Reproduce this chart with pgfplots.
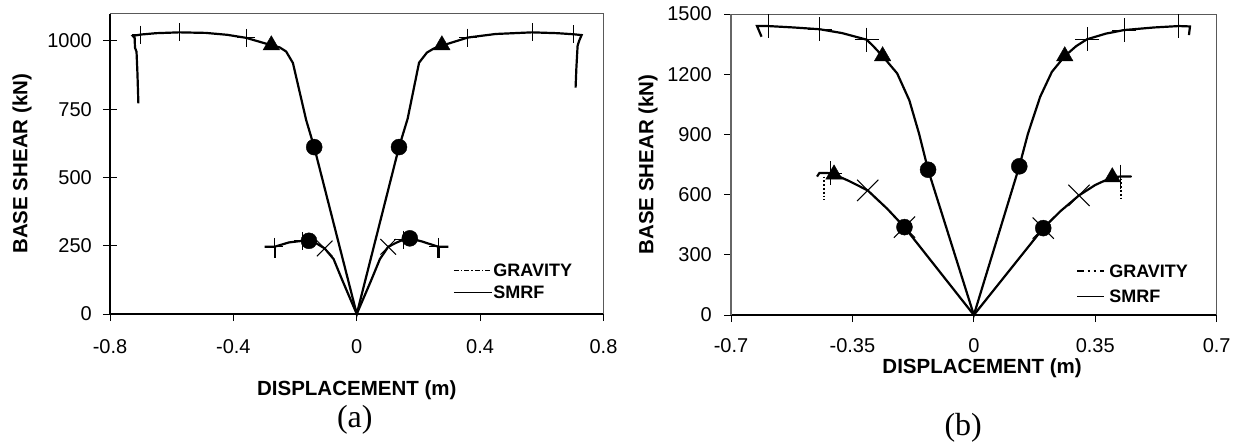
\documentclass[border=0pt]{standalone}
\usepackage{fontspec}
\setmainfont{Liberation Sans}
\newfontfamily\seriffont{Liberation Serif}
\usepackage{pgfplots}
\pgfplotsset{compat=1.18}
\pgfplotsset{
  common/.style={
    scale only axis, clip=false,
    axis x line*=bottom, axis y line*=left,
    x axis line style={-, black, line width=1.8pt},
    tick style={black, line width=0.8pt},
    /pgf/number format/assume math mode=true,
    /pgf/number format/1000 sep={},
    /pgf/number format/fixed,
    /pgf/number format/precision=2,
    tick label style={font=\fontsize{20}{24}\selectfont},
    yticklabel style={anchor=east, inner sep=0pt},
    label style={font=\fontsize{20.5}{24}\selectfont\bfseries},
    legend cell align=left,
    legend style={draw=none, fill=none, inner sep=0pt,
      font=\fontsize{18}{18}\selectfont\bfseries,
      nodes={inner sep=0pt, text height=13pt, text depth=0pt}},
  },
  curve/.style={black, line width=2.2pt, no marks, forget plot},
  pl/.style={only marks, mark=+, mark size=#1, mark options={black, line width=0.9pt}, forget plot},
  xm/.style={only marks, mark=x, mark size=#1, mark options={black, line width=1pt}, forget plot},
  ci/.style={only marks, mark=*, mark size=8pt, black, forget plot},
  tr/.style={only marks, mark=triangle*, mark size=9.5pt, black, forget plot},
}
\begin{document}
\begin{tikzpicture}
\useasboundingbox (0,0) rectangle (1242pt,-445pt);
% ---------------- (a) ----------------
\begin{axis}[common, at={(110pt,-314pt)}, anchor=south west,
  width=493.5pt, height=300.5pt,
  xmin=-0.8, xmax=0.8, ymin=0, ymax=1100,
  xtick={-0.8,-0.4,0,0.4,0.8}, ytick={0,250,500,750,1000},
  y axis line style={-, black, line width=1.4pt},
  major tick length=14pt, ytick align=center,
  major x tick style={draw=none},
  minor xtick={-0.8,-0.4,0,0.4,0.8}, minor tick length=7pt, xtick align=outside,
  xticklabel style={anchor=center, inner sep=0pt, yshift=-19pt},
  yticklabel style={xshift=-11pt},
  xlabel={DISPLACEMENT (m)}, ylabel={BASE SHEAR (kN)},
  xlabel style={at={(axis description cs:0.5,-0.253)}, anchor=center},
  ylabel style={at={(axis description cs:-0.178,0.5)}, anchor=center},
  legend style={at={(axis description cs:0.695,0.168)}, anchor=north west, row sep=9pt, column sep=1pt},
  legend image code/.code={\draw[#1] (0pt,0pt) -- (38pt,0pt);},
]
\addlegendimage{black, line width=1.3pt, dash pattern=on 5pt off 2pt on 1.5pt off 2pt}
\addlegendentry{GRAVITY}
\addlegendimage{black, line width=1.1pt}
\addlegendentry{SMRF}
% SMRF
\addplot[curve] coordinates {(-0.708,771) (-0.711,880) (-0.714,960) (-0.719,975) (-0.720,1010) (-0.726,1018) (-0.700,1023) (-0.650,1028) (-0.576,1031) (-0.489,1029) (-0.420,1022) (-0.359,1011) (-0.283,986) (-0.250,976) (-0.229,961) (-0.207,919) (-0.164,710) (-0.138,611) (0,0) (0.137,611) (0.165,715) (0.202,920) (0.2275,957) (0.250,972) (0.275,982) (0.360,1012) (0.450,1025) (0.568,1031) (0.650,1028) (0.703,1024) (0.729,1021) (0.721,1000) (0.716,982) (0.712,900) (0.7095,829)};
% GRAVITY
\addplot[curve] coordinates {(-0.299,246) (-0.267,246) (-0.22,262) (-0.175,268) (-0.155,268) (-0.13,258) (-0.104,240) (-0.075,201) (-0.047,124) (0,0) (0.047,124) (0.075,201) (0.102,246) (0.13,262) (0.151,272) (0.172,277) (0.21,266) (0.265,246) (0.297,246)};
\addplot[curve] coordinates {(-0.265,246) (-0.265,205)};
\addplot[curve] coordinates {(0.265,246) (0.265,205)};
% markers
\addplot[tr] coordinates {(-0.277,984) (0.276,984)};
\addplot[ci] coordinates {(-0.138,611) (0.137,611) (-0.155,268) (0.172,277)};
\addplot[pl=9pt] coordinates {(-0.700,1023) (-0.576,1031) (-0.359,1011) (0.360,1012) (0.568,1031) (0.703,1024) (-0.267,246) (-0.175,268) (0.151,272) (0.265,246)};
\addplot[xm=11pt] coordinates {(-0.104,240) (0.102,246)};
\draw[gray!70!black, line width=0.8pt] (rel axis cs:0,1) -- (rel axis cs:1,1) -- (rel axis cs:1,0);
\node[font=\seriffont\fontsize{32}{36}\selectfont] at (axis description cs:0.496,-0.353) {(a)};
\end{axis}
% ---------------- (b) ----------------
\begin{axis}[common, at={(731pt,-315pt)}, anchor=south west,
  width=485.7pt, height=301pt,
  xmin=-0.7, xmax=0.7, ymin=0, ymax=1500,
  xtick={-0.7,-0.35,0,0.35,0.7}, ytick={0,300,600,900,1200,1500},
  y axis line style={-, gray!80!black, line width=1.1pt},
  major tick length=7pt, tick align=outside,
  xticklabel style={anchor=center, inner sep=0pt, yshift=-24pt},
  yticklabel style={xshift=-12pt},
  xlabel={DISPLACEMENT (m)}, ylabel={BASE SHEAR (kN)},
  xlabel style={at={(axis description cs:0.517,-0.178)}, anchor=center, inner sep=0pt},
  ylabel style={at={(axis description cs:-0.171,0.5)}, anchor=center},
  legend style={at={(axis description cs:0.710,0.168)}, anchor=north west, row sep=12pt, column sep=4pt},
  legend image code/.code={\draw[#1] (0pt,0pt) -- (27pt,0pt);},
]
\addlegendimage{black, line width=2.2pt, dash pattern=on 7pt off 3.5pt on 2.5pt off 3.5pt on 2.5pt off 4pt}
\addlegendentry{GRAVITY}
\addlegendimage{black, line width=1.1pt}
\addlegendentry{SMRF}
% SMRF
\addplot[curve] coordinates {(-0.612,1387) (-0.625,1440) (-0.593,1440) (-0.52,1433) (-0.444,1424) (-0.38,1405) (-0.309,1372) (-0.29,1340) (-0.263,1290) (-0.221,1204) (-0.186,1070) (-0.158,904) (-0.132,724) (0,0) (0.131,741) (0.156,904) (0.191,1087) (0.225,1212) (0.262,1290) (0.295,1340) (0.326,1374) (0.38,1402) (0.433,1420) (0.52,1433) (0.591,1440) (0.623,1438) (0.620,1395)};
% GRAVITY
\addplot[curve] coordinates {(-0.452,690) (-0.445,708) (-0.414,707) (-0.403,701) (-0.36,668) (-0.306,621) (-0.25,530) (-0.200,438) (0,0) (0.200,433) (0.25,518) (0.303,596) (0.35,648) (0.399,687) (0.422,690) (0.454,690)};
\addplot[black, line width=1.8pt, dotted, no marks, forget plot] coordinates {(-0.432,690) (-0.432,571)};
\addplot[black, line width=1.8pt, dotted, no marks, forget plot] coordinates {(0.425,680) (0.425,579)};
% markers
\addplot[xm=15pt] coordinates {(-0.200,438) (0.200,433) (-0.306,621) (0.303,596)};
\addplot[tr] coordinates {(-0.263,1290) (0.262,1290) (-0.403,701) (0.399,687)};
\addplot[ci] coordinates {(-0.132,724) (0.131,741) (-0.200,438) (0.200,433)};
\addplot[pl=12pt] coordinates {(-0.593,1440) (-0.444,1424) (-0.309,1372) (0.326,1374) (0.433,1420) (0.591,1440) (-0.414,707) (0.422,690)};
\draw[gray!70!black, line width=0.8pt] (rel axis cs:0,1) -- (rel axis cs:1,1) -- (rel axis cs:1,0);
\node[font=\seriffont\fontsize{32}{36}\selectfont] at (axis description cs:0.478,-0.375) {(b)};
\end{axis}
\end{tikzpicture}
\end{document}
